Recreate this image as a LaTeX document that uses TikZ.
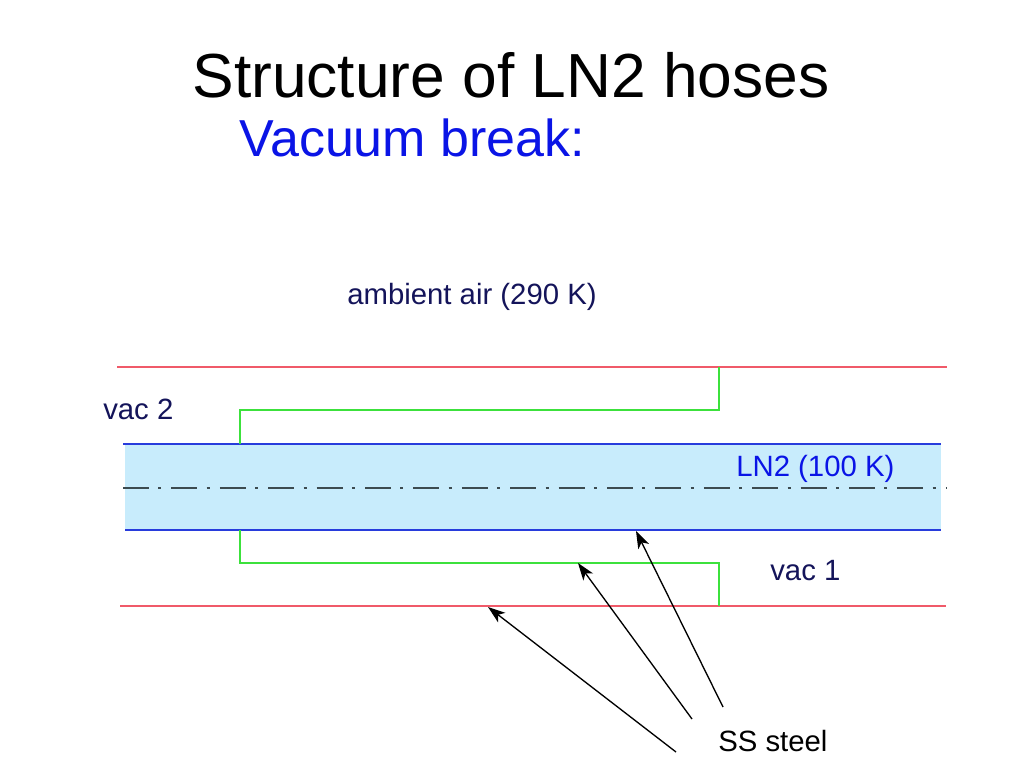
\documentclass[tikz,border=0pt]{standalone}
\usepackage{fontspec}
\setmainfont{Liberation Sans}
\usetikzlibrary{arrows.meta}
\definecolor{redline}{RGB}{240,90,105}
\definecolor{blueline}{RGB}{40,60,220}
\definecolor{ln2fill}{RGB}{200,236,252}
\definecolor{greenline}{RGB}{60,225,60}
\definecolor{navytext}{RGB}{20,20,90}
\definecolor{bluetext}{RGB}{10,20,230}
\definecolor{axisline}{RGB}{60,75,80}
\begin{document}
\begin{tikzpicture}[x=0.75pt,y=-0.75pt,
  redwall/.style={draw=redline,line width=1.3pt},
  bluewall/.style={draw=blueline,line width=1pt},
  greenwall/.style={draw=greenline,line width=1.1pt},
  axisstyle/.style={draw=axisline,line width=1.5pt,dash pattern=on 19.5pt off 7pt on 2.3pt off 7.5pt},
  lbl/.style={font=\fontsize{22}{26}\selectfont,inner sep=0pt},
  pointer/.style={draw=black,line width=1pt,-{Stealth[length=13pt,width=9pt,inset=3.5pt]}}]
\useasboundingbox (0,0) rectangle (1024,768);
\fill[white] (0,0) rectangle (1024,768);
% title
\node[inner sep=0pt,font=\fontsize{46.7}{52}\selectfont] (title) at (511,75) {Structure of LN2 hoses};
\node[inner sep=0pt,anchor=west,text=bluetext,font=\fontsize{39}{44}\selectfont] (sub) at (239,138) {Vacuum break:};
% LN2 channel
\fill[ln2fill] (125,444) rectangle (941,530);
\draw[bluewall] (123,444) -- (941,444);
\draw[bluewall] (125,530) -- (941,530);
\draw[axisstyle] (123,488) -- (947,488);
% outer walls
\draw[redwall] (117,367) -- (947,367);
\draw[redwall] (120,606) -- (946,606);
% green inner walls
\draw[greenwall] (240,444) -- (240,410) -- (719,410) -- (719,367);
\draw[greenwall] (240,530) -- (240,563) -- (719,563) -- (719,606);
% labels
\node[lbl,text=navytext,anchor=west] (amb) at (347,297) {ambient air (290 K)};
\node[lbl,text=navytext,anchor=west] (vac2) at (103,409) {vac 2};
\node[lbl,text=navytext,anchor=west] (vac1) at (770,571) {vac 1};
\node[lbl,text=bluetext,anchor=west] (ln2) at (736,469) {LN2 (100 K)};
\node[lbl,text=black,anchor=west] (ss) at (718,741) {SS steel};
% arrows
\coordinate (t1) at (676,752);
\coordinate (h1) at (488,607);
\coordinate (t2) at (692,719);
\coordinate (h2) at (578,563);
\coordinate (t3) at (723,707);
\coordinate (h3) at (636,531);
\draw[pointer] (t1) -- (h1);
\draw[pointer] (t2) -- (h2);
\draw[pointer] (t3) -- (h3);
\end{tikzpicture}
\end{document}
